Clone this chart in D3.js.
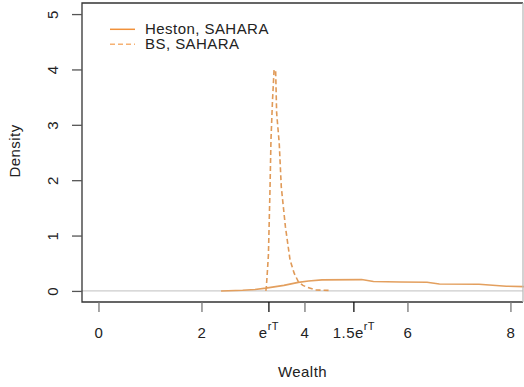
<!DOCTYPE html>
<html>
<head>
<meta charset="utf-8">
<script src="https://cdn.jsdelivr.net/npm/d3@7"></script>
<style>
  html, body { margin: 0; padding: 0; background: #fff; }
  svg text { font-family: "Liberation Sans", Arial, sans-serif; fill: #222; letter-spacing: 0.45px; }
</style>
</head>
<body>
<svg id="chart" width="524" height="387"></svg>
<script>
// Terminal wealth densities under the SAHARA strategy
const eRT = 3.3; // e^{rT}

const hestonWealth  = [2.38, 2.80, 3.04, 3.25, 3.60, 3.88, 4.08, 4.34, 5.11, 5.34, 5.86, 6.38, 6.62, 7.39, 7.92, 8.40];
const hestonDensity = [0.00, 0.012, 0.025, 0.05, 0.10, 0.155, 0.18, 0.20, 0.205, 0.17, 0.162, 0.157, 0.125, 0.12, 0.085, 0.075];

const bsWealth  = [3.25, 3.26, 3.28, 3.30, 3.33, 3.35, 3.38, 3.41, 3.44, 3.46, 3.51, 3.55, 3.63, 3.72, 3.80, 3.88, 3.97, 4.05, 4.21, 4.47];
const bsDensity = [0.00, 0.07, 0.35, 0.65, 1.80, 2.73, 3.45, 3.99, 3.99, 3.21, 2.67, 1.88, 1.16, 0.56, 0.32, 0.17, 0.10, 0.067, 0.018, 0.01];

const yTicks = [0, 1, 2, 3, 4, 5];
const xTicks = [0, 2, eRT, 4, 1.5 * eRT, 6, 8];
// label pieces: [base, superscript]
const xTickLabels = [["0", ""], ["2", ""], ["e", "rT"], ["4", ""], ["1.5e", "rT"], ["6", ""], ["8", ""]];
const legendLabels = ["Heston, SAHARA", "BS, SAHARA"];

const svg = d3.select("#chart");
const plotLeft = 82, plotRight = 523, plotTop = 3, plotBottom = 302;

const x = d3.scaleLinear().domain([-0.32, 8.244]).range([plotLeft, plotRight]);
const y = d3.scaleLinear().domain([-0.2, 5.2]).range([plotBottom, plotTop]);

// zero reference line
svg.append("line")
  .attr("x1", plotLeft).attr("x2", plotRight)
  .attr("y1", y(0)).attr("y2", y(0))
  .attr("stroke", "#cccccc").attr("stroke-width", 1.2);

const line = d3.line().x(d => x(d[0])).y(d => y(d[1]));

svg.append("path")
  .datum(hestonWealth.map((w, i) => [w, hestonDensity[i]]))
  .attr("d", line)
  .attr("fill", "none")
  .attr("stroke", "#e39f5e")
  .attr("stroke-width", 1.6);

svg.append("path")
  .datum(bsWealth.map((w, i) => [w, bsDensity[i]]))
  .attr("d", line)
  .attr("fill", "none")
  .attr("stroke", "#e09a58")
  .attr("stroke-width", 1.6)
  .attr("stroke-dasharray", "5,3");

// clip anything drawn past the frame
svg.append("rect").attr("x", plotRight + 1).attr("y", 0).attr("width", 10).attr("height", 387).attr("fill", "#fff");

// frame
svg.append("path")
  .attr("d", `M${plotRight},${plotTop}H${plotLeft}V${plotBottom}H${plotRight}`)
  .attr("fill", "none").attr("stroke", "#333").attr("stroke-width", 1.3);
svg.append("line")
  .attr("x1", plotRight).attr("x2", plotRight).attr("y1", plotTop).attr("y2", plotBottom)
  .attr("stroke", "#bbbbbb").attr("stroke-width", 1.3);

// y axis
const yAxis = svg.append("g")
  .attr("transform", `translate(${plotLeft},0)`)
  .call(d3.axisLeft(y).tickValues(yTicks).tickSize(10).tickFormat(d3.format("d")));
yAxis.select(".domain").remove();
yAxis.selectAll(".tick line").attr("stroke", "#555").attr("stroke-width", 1.3);
yAxis.selectAll(".tick text")
  .attr("x", null).attr("dy", null)
  .attr("transform", "translate(-24,0) rotate(-90)")
  .attr("text-anchor", "middle")
  .style("font-size", "15px");

// x axis
const xAxis = svg.append("g")
  .attr("transform", `translate(0,${plotBottom})`)
  .call(d3.axisBottom(x).tickValues(xTicks).tickSize(10).tickFormat(""));
xAxis.select(".domain").remove();
xAxis.selectAll(".tick line")
  .attr("stroke", (d, i) => xTickLabels[i][1] ? "#111" : "#777")
  .attr("stroke-width", 1.3);
xAxis.selectAll(".tick text").remove();
xAxis.selectAll(".tick").each(function (d, i) {
  const t = d3.select(this).append("text")
    .attr("y", 35.5)
    .attr("text-anchor", "middle")
    .style("font-size", "15px");
  t.append("tspan").text(xTickLabels[i][0]);
  if (xTickLabels[i][1]) {
    t.append("tspan").attr("dy", -8).style("font-size", "11px").text(xTickLabels[i][1]);
  }
});

// axis titles
svg.append("text")
  .attr("x", 302.5).attr("y", 377)
  .attr("text-anchor", "middle")
  .style("font-size", "15px")
  .text("Wealth");
svg.append("text")
  .attr("transform", "translate(20,151) rotate(-90)")
  .attr("text-anchor", "middle")
  .style("font-size", "15px")
  .text("Density");

// legend
const legend = svg.append("g");
const legendStyles = [
  { stroke: "#f1913a", dash: null },
  { stroke: "#f6b173", dash: "5,3" }
];
legendLabels.forEach((label, i) => {
  const yy = 29.3 + i * 15;
  legend.append("line")
    .attr("x1", 110).attr("x2", 135)
    .attr("y1", yy).attr("y2", yy)
    .attr("stroke", legendStyles[i].stroke)
    .attr("stroke-width", 1.5)
    .attr("stroke-dasharray", legendStyles[i].dash);
  legend.append("text")
    .attr("x", 145).attr("y", yy + 5)
    .style("font-size", "15px")
    .text(label);
});
</script>
</body>
</html>
